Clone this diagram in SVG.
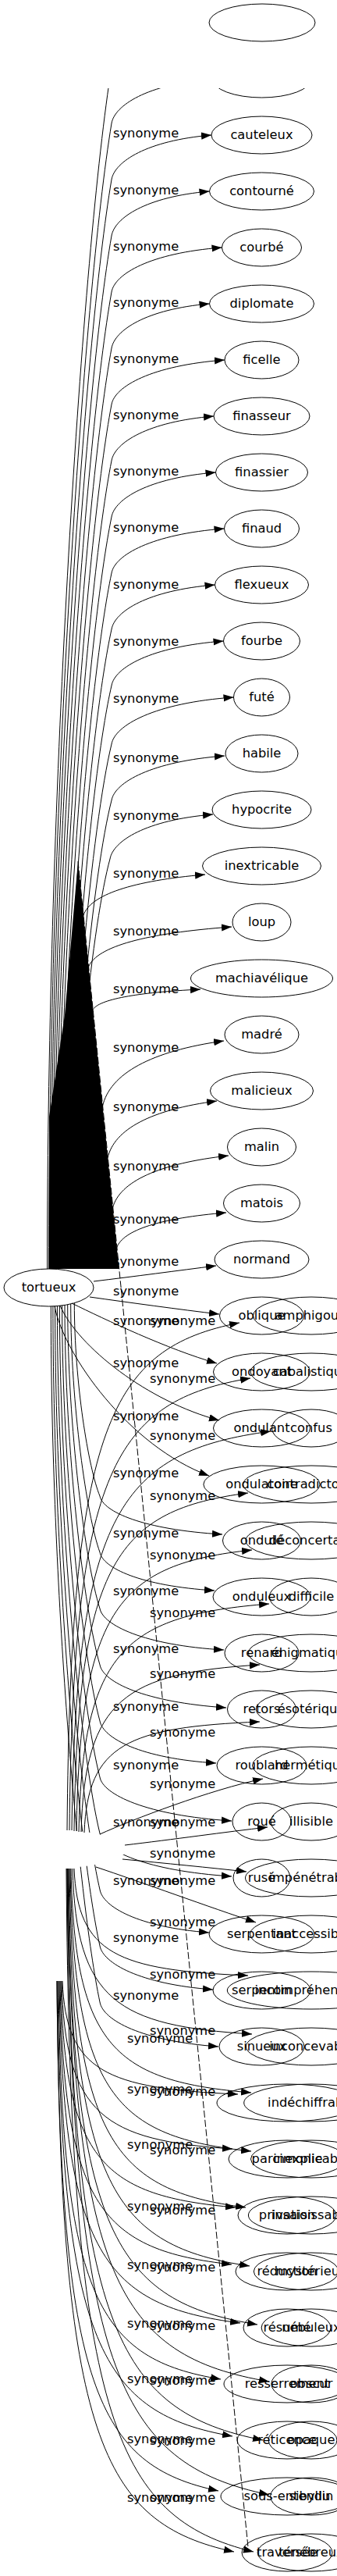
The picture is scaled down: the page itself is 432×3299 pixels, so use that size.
<svg xmlns="http://www.w3.org/2000/svg" width="432" height="3299" viewBox="0 0 432 3299">
<defs>
<marker id="ah" markerWidth="13" markerHeight="10" refX="13" refY="5" orient="auto" markerUnits="userSpaceOnUse"><path d="M0,0.4 L13,5 L0,9.6 z" fill="#000"/></marker>
</defs>
<style>
text{font-family:"DejaVu Sans","Liberation Sans",sans-serif;font-size:16.3px;fill:#000}
.n ellipse{fill:none;stroke:#000;stroke-width:1}
.n text{text-anchor:middle}
.e path{fill:none;stroke:#000;stroke-width:1;marker-end:url(#ah)}
.occ{fill:#fff;stroke:none}
</style>
<rect width="432" height="3299" fill="#fff"/>

<g id="connectors-a" class="e">
<path d="M60.6,1625 C60.6,1009 106,317 143,86 C147,63 187,36 267.5,29"/>
<path d="M62.6,1625 C62.6,1038 106.8,378 143,158 C147,135 188,108 272,101"/>
<path d="M64.6,1625 C64.6,1067 107.7,439 143,230 C147,207 188,180 271,173"/>
<path d="M66.6,1625 C66.6,1096 108.6,500 143,302 C147,279 187,252 268.5,245"/>
<path d="M68.7,1625 C68.7,1125 109.6,562 143,374 C147,351 192,324 284.5,317"/>
<path d="M70.9,1625 C70.9,1153 110.6,623 143,446 C147,423 187,396 268.5,389"/>
<path d="M73.1,1625 C73.1,1182 111.6,684 143,518 C147,495 194,468 288,461"/>
<path d="M75.4,1625 C75.4,1211 112.6,745 143,590 C147,567 189,540 274,533"/>
<path d="M77.8,1625 C77.8,1240 113.7,806 143,662 C147,639 190,612 276.5,605"/>
<path d="M80.3,1625 C80.3,1269 114.8,868 143,734 C147,711 194,684 287.5,677"/>
<path d="M82.9,1625 C82.9,1297 116,929 143,806 C147,783 189,756 275.5,749"/>
<path d="M85.6,1625 C85.6,1326 117.2,990 143,878 C147,855 193,828 286.5,821"/>
<path d="M88.6,1625 C88.6,1356 118.5,1054 143,953 C147,929 198,900 299.5,893"/>
<path d="M91.6,1625 C91.6,1385 119.9,1115 143,1025 C147,1002 194,975 288,968"/>
<path d="M92.9,1625 C92.9,1415 119.4,1179 141,1100 C145,1077 187,1050 273,1043"/>
<path d="M84,1625 L107,1172 C116,1146 169,1128 263,1120"/>
<path d="M94,1625 L113.5,1238 C124.5,1212 187,1195 297,1187"/>
<path d="M102,1625 L119,1293 C127,1280 174,1271 257,1267"/>
<path d="M111,1625 L131.4,1417 C140.7,1375 193.6,1346 287,1333"/>
<path d="M120,1625 L138,1483 C146.4,1446 194,1421 278,1410"/>
<path d="M130,1625 L144.4,1547 C153.3,1513 203.8,1490 293,1480"/>
<path d="M140,1625 L149.5,1598 C158,1575 205.7,1560 290,1553"/>
<path d="M120,1641 C170,1635 230,1627 277,1621"/>
<path d="M115,1661 C165,1668 230,1677 281,1683"/>
<path d="M92,1669 C135,1690 215,1728 278,1746"/>
<path d="M77,1672 C100,1725 190,1795 281,1819"/>
<path d="M70,1673 C82,1735 165,1852 268,1890"/>
<path d="M95.3,1669 C95.3,1770 113.3,1880 128,1916 C132,1936 183,1959 285,1965"/>
<path d="M90.7,1670 C90.7,1799 111.2,1941 128,1988 C132,2008 179.5,2031 275,2037"/>
<path d="M86.7,1671 C86.7,1828 109.4,2002 128,2060 C132,2081 183.7,2107 287,2113"/>
<path d="M83,1671 C83,1857 107.8,2063 128,2132 C132,2154 184.7,2180 290,2187"/>
<path d="M79.6,1672 C79.6,1885 106.2,2124 128,2204 C132,2226 180.2,2252 277,2258"/>
<path d="M76.4,1672 C76.4,1914 104.8,2186 128,2276 C132,2298 187.2,2325 297,2332"/>
<path d="M73.4,1672 C73.4,1943 103.4,2247 128,2348 C132,2370 187.2,2396 297,2403"/>
<path d="M70.6,1673 C70.6,1972 102.2,2308 128,2420 C132,2442 177,2468 268,2475"/>
<path d="M67.9,1673 C67.9,2001 101,2369 128,2492 C132,2514 178.8,2541 273,2548"/>
<path d="M65.3,1673 C65.3,2029 99.8,2430 128,2564 C132,2587 181.2,2614 280,2621"/>
</g>

<g id="labels-a">
<text x="145" y="176">synonyme</text><text x="145" y="249">synonyme</text><text x="145" y="321">synonyme</text>
<text x="145" y="393">synonyme</text><text x="145" y="465">synonyme</text><text x="145" y="537">synonyme</text>
<text x="145" y="609">synonyme</text><text x="145" y="681">synonyme</text><text x="145" y="754">synonyme</text>
<text x="145" y="827">synonyme</text><text x="145" y="900">synonyme</text><text x="145" y="976">synonyme</text>
<text x="145" y="1050">synonyme</text><text x="145" y="1124">synonyme</text><text x="145" y="1198">synonyme</text>
<text x="145" y="1272">synonyme</text><text x="145" y="1347">synonyme</text><text x="145" y="1423">synonyme</text>
<text x="145" y="1499">synonyme</text><text x="145" y="1567">synonyme</text><text x="145" y="1621">synonyme</text>
<text x="145" y="1659">synonyme</text><text x="145" y="1697">synonyme</text><text x="145" y="1751">synonyme</text>
<text x="145" y="1819">synonyme</text><text x="145" y="1892">synonyme</text><text x="145" y="1969">synonyme</text>
<text x="145" y="2043">synonyme</text><text x="145" y="2117">synonyme</text><text x="145" y="2191">synonyme</text>
<text x="145" y="2266">synonyme</text><text x="145" y="2339">synonyme</text><text x="145" y="2414">synonyme</text>
<text x="145" y="2487">synonyme</text><text x="145" y="2561">synonyme</text>
</g>

<g id="n-a101" class="n"><ellipse cx="335.5" cy="101" rx="63.5" ry="24"/></g>
<g id="n-cauteleux" class="n"><ellipse cx="335.5" cy="173" rx="64.5" ry="24"/><text x="335.5" y="178">cauteleux</text></g>
<g id="n-contourne" class="n"><ellipse cx="335.5" cy="245" rx="67" ry="24"/><text x="335.5" y="250">contourné</text></g>
<g id="n-courbe" class="n"><ellipse cx="335.5" cy="317" rx="51" ry="24"/><text x="335.5" y="322">courbé</text></g>
<g id="n-diplomate" class="n"><ellipse cx="335.5" cy="389" rx="67" ry="24"/><text x="335.5" y="394">diplomate</text></g>
<g id="n-ficelle" class="n"><ellipse cx="335.5" cy="461" rx="47.5" ry="24"/><text x="335.5" y="466">ficelle</text></g>
<g id="n-finasseur" class="n"><ellipse cx="335.5" cy="533" rx="61.5" ry="24"/><text x="335.5" y="538">finasseur</text></g>
<g id="n-finassier" class="n"><ellipse cx="335.5" cy="605" rx="59" ry="24"/><text x="335.5" y="610">finassier</text></g>
<g id="n-finaud" class="n"><ellipse cx="335.5" cy="677" rx="48" ry="24"/><text x="335.5" y="682">finaud</text></g>
<g id="n-flexueux" class="n"><ellipse cx="335.5" cy="749" rx="60" ry="24"/><text x="335.5" y="754">flexueux</text></g>
<g id="n-fourbe" class="n"><ellipse cx="335.5" cy="821" rx="49" ry="24"/><text x="335.5" y="826">fourbe</text></g>
<g id="n-fute" class="n"><ellipse cx="335.5" cy="893" rx="36" ry="24"/><text x="335.5" y="898">futé</text></g>
<g id="n-habile" class="n"><ellipse cx="335.5" cy="965" rx="46.5" ry="24"/><text x="335.5" y="970">habile</text></g>
<g id="n-hypocrite" class="n"><ellipse cx="335.5" cy="1037" rx="63.5" ry="24"/><text x="335.5" y="1042">hypocrite</text></g>
<g id="n-inextricable" class="n"><ellipse cx="335.5" cy="1109" rx="76" ry="24"/><text x="335.5" y="1114">inextricable</text></g>
<g id="n-loup" class="n"><ellipse cx="335.5" cy="1181" rx="37.5" ry="24"/><text x="335.5" y="1186">loup</text></g>
<g id="n-machiavelique" class="n"><ellipse cx="335.5" cy="1253" rx="91" ry="24"/><text x="335.5" y="1258">machiavélique</text></g>
<g id="n-madre" class="n"><ellipse cx="335.5" cy="1325" rx="47.5" ry="24"/><text x="335.5" y="1330">madré</text></g>
<g id="n-malicieux" class="n"><ellipse cx="335.5" cy="1397" rx="66" ry="24"/><text x="335.5" y="1402">malicieux</text></g>
<g id="n-malin" class="n"><ellipse cx="335.5" cy="1469" rx="44" ry="24"/><text x="335.5" y="1474">malin</text></g>
<g id="n-matois" class="n"><ellipse cx="335.5" cy="1541" rx="49" ry="24"/><text x="335.5" y="1546">matois</text></g>
<g id="n-normand" class="n"><ellipse cx="335.5" cy="1613" rx="60.5" ry="24"/><text x="335.5" y="1618">normand</text></g>
<g id="n-oblique" class="n"><ellipse cx="335.5" cy="1685" rx="54" ry="24"/><text x="335.5" y="1690">oblique</text></g>
<g id="n-ondoyant" class="n"><ellipse cx="335.5" cy="1757" rx="62" ry="24"/><text x="335.5" y="1762">ondoyant</text></g>
<g id="n-ondulant" class="n"><ellipse cx="335.5" cy="1829" rx="62" ry="24"/><text x="335.5" y="1834">ondulant</text></g>
<g id="n-ondulatoire" class="n"><ellipse cx="335.5" cy="1901" rx="74.6" ry="24"/><text x="335.5" y="1906">ondulatoire</text></g>
<g id="n-ondule" class="n"><ellipse cx="335.5" cy="1973" rx="50" ry="24"/><text x="335.5" y="1978">ondulé</text></g>
<g id="n-onduleux" class="n"><ellipse cx="335.5" cy="2045" rx="62.5" ry="24"/><text x="335.5" y="2050">onduleux</text></g>
<g id="n-renard" class="n"><ellipse cx="335.5" cy="2117" rx="47.5" ry="24"/><text x="335.5" y="2122">renard</text></g>
<g id="n-retors" class="n"><ellipse cx="335.5" cy="2189" rx="44" ry="24"/><text x="335.5" y="2194">retors</text></g>
<g id="n-roublard" class="n"><ellipse cx="335.5" cy="2261" rx="57.5" ry="24"/><text x="335.5" y="2266">roublard</text></g>
<g id="n-roue" class="n"><ellipse cx="335.5" cy="2333" rx="37.5" ry="24"/><text x="335.5" y="2338">roué</text></g>
<g id="n-ruse" class="n"><ellipse cx="335.5" cy="2405" rx="36.5" ry="24"/><text x="335.5" y="2410">rusé</text></g>
<g id="n-serpentant" class="n"><ellipse cx="335.5" cy="2477" rx="67.5" ry="24"/><text x="335.5" y="2482">serpentant</text></g>
<g id="n-serpentin" class="n"><ellipse cx="335.5" cy="2549" rx="62.5" ry="24"/><text x="335.5" y="2554">serpentin</text></g>
<g id="n-sinueux" class="n"><ellipse cx="335.5" cy="2621" rx="54.5" ry="24"/><text x="335.5" y="2626">sinueux</text></g>
<g id="n-tortueux" class="n"><ellipse cx="62.5" cy="1649" rx="57.5" ry="24"/><text x="62.5" y="1654">tortueux</text></g>

<polygon id="wedge" points="100,1103 152.5,1625 63,1625 63,1430 83,1300" fill="#000"/>
<rect x="0" y="0" width="432" height="113" fill="#fff"/>
<g id="n-blank-top" class="n"><ellipse cx="336" cy="29" rx="68" ry="24"/></g>

<ellipse class="occ" cx="62" cy="2368" rx="100" ry="25"/>
<g id="connectors-b" class="e">
<path d="M86,2344 C90.4,1824 141.25,1726.5 307,1694"/>
<path d="M89,2344 C93.6,1881 147,1794 321,1765"/>
<path d="M92,2344 C97.1,1935 155.75,1858.6 347,1833"/>
<path d="M95,2345 C99.5,1999 150.75,1933.65 318,1912"/>
<path d="M98,2345 C102.5,2057 154.25,2003 323,1985"/>
<path d="M101,2346 C105.9,2112 162,2068.6 345,2054"/>
<path d="M104,2346 C108.6,2175 161.25,2142.7 333,2132"/>
<path d="M108,2347 C112.5,2233 164.25,2212 333,2205"/>
<path d="M128,2349 C170,2330 270,2292 337,2278"/>
<path d="M160,2363 C220,2356 290,2346 343,2340"/>
<path d="M157,2381 C210,2386 270,2392 316,2397"/>
<path d="M123,2391 C180,2410 270,2443 328,2462"/>
<path d="M95,2393 C99.5,2502.6 150.75,2523.2 318,2530"/>
<path d="M93,2393 C97.6,2562.6 150.5,2594.4 323,2605"/>
<path d="M91,2393 C95.6,2622.6 148.75,2665.65 322,2680"/>
<path d="M90,2393 C94.6,2682.6 148,2736.9 322,2755"/>
<path d="M89,2393 C93.5,2740.2 145.5,2805.3 315,2827"/>
<path d="M88,2393 C92.6,2800.2 146,2876.55 320,2902"/>
<path d="M87,2393 C91.9,2860.2 147.75,2947.8 330,2977"/>
<path d="M87,2393 C92.2,2918.6 151.5,3017.15 345,3050"/>
<path d="M86,2393 C91,2978.6 148.75,3088.4 337,3125"/>
<path d="M86,2393 C91.2,3034.6 150.75,3154.9 345,3195"/>
<path d="M85,2393 C89.8,3093 145,3224.25 325,3268"/>
</g>
<g id="labels-b">
<text x="192" y="1697">synonyme</text><text x="192" y="1771">synonyme</text><text x="192" y="1844">synonyme</text>
<text x="192" y="1921">synonyme</text><text x="192" y="1997">synonyme</text><text x="192" y="2071">synonyme</text>
<text x="192" y="2149">synonyme</text><text x="192" y="2224">synonyme</text><text x="192" y="2290">synonyme</text>
<text x="192" y="2339">synonyme</text><text x="192" y="2379">synonyme</text><text x="192" y="2414">synonyme</text>
<text x="192" y="2467">synonyme</text><text x="192" y="2534">synonyme</text><text x="192" y="2606">synonyme</text>
<text x="192" y="2684">synonyme</text><text x="192" y="2759">synonyme</text><text x="192" y="2836">synonyme</text>
<text x="192" y="2909">synonyme</text><text x="192" y="2984">synonyme</text><text x="192" y="3054">synonyme</text>
<text x="192" y="3131">synonyme</text><text x="192" y="3204">synonyme</text>
</g>
<g id="n-amphigouri" class="n"><ellipse cx="399" cy="1685" rx="74.5" ry="24"/><text x="399" y="1690">amphigouri</text></g>
<g id="n-cabalistique" class="n"><ellipse cx="399" cy="1757" rx="77.9" ry="24"/><text x="399" y="1762">cabalistique</text></g>
<g id="n-confus" class="n"><ellipse cx="399" cy="1829" rx="50.5" ry="24"/><text x="399" y="1834">confus</text></g>
<g id="n-contradictoire" class="n"><ellipse cx="399" cy="1901" rx="87.3" ry="24"/><text x="399" y="1906">contradictoire</text></g>
<g id="n-deconcertant" class="n"><ellipse cx="399" cy="1973" rx="84" ry="24"/><text x="399" y="1978">déconcertant</text></g>
<g id="n-difficile" class="n"><ellipse cx="399" cy="2045" rx="53.7" ry="24"/><text x="399" y="2050">difficile</text></g>
<g id="n-enigmatique" class="n"><ellipse cx="399" cy="2117" rx="80.5" ry="24"/><text x="399" y="2122">énigmatique</text></g>
<g id="n-esoterique" class="n"><ellipse cx="399" cy="2189" rx="70.8" ry="24"/><text x="399" y="2194">ésotérique</text></g>
<g id="n-hermetique" class="n"><ellipse cx="399" cy="2261" rx="75.5" ry="24"/><text x="399" y="2266">hermétique</text></g>
<g id="n-illisible" class="n"><ellipse cx="399" cy="2333" rx="51.9" ry="24"/><text x="399" y="2338">illisible</text></g>
<g id="n-impenetrable" class="n"><ellipse cx="399" cy="2405" rx="84.5" ry="24"/><text x="399" y="2410">impénétrable</text></g>
<g id="n-inaccessible" class="n"><ellipse cx="399" cy="2477" rx="78.4" ry="24"/><text x="399" y="2482">inaccessible</text></g>
<g id="n-incomprehensible" class="n"><ellipse cx="399" cy="2549" rx="107.7" ry="24"/><text x="399" y="2554">incompréhensible</text></g>
<g id="n-inconcevable" class="n"><ellipse cx="399" cy="2621" rx="83.6" ry="24"/><text x="399" y="2626">inconcevable</text></g>
<g id="n-indechiffrable" class="n"><ellipse cx="399" cy="2693" rx="86.3" ry="24"/><text x="399" y="2698">indéchiffrable</text></g>
<g id="n-inexplicable" class="n"><ellipse cx="399" cy="2765" rx="77.5" ry="24"/><text x="399" y="2770">inexplicable</text></g>
<g id="n-insaisissable" class="n"><ellipse cx="399" cy="2837" rx="80.6" ry="24"/><text x="399" y="2842">insaisissable</text></g>
<g id="n-mysterieux" class="n"><ellipse cx="399" cy="2909" rx="73.7" ry="24"/><text x="399" y="2914">mystérieux</text></g>
<g id="n-nebuleux" class="n"><ellipse cx="399" cy="2981" rx="63.9" ry="24"/><text x="399" y="2986">nébuleux</text></g>
<g id="n-obscur" class="n"><ellipse cx="399" cy="3053" rx="51.1" ry="24"/><text x="399" y="3058">obscur</text></g>
<g id="n-opaque" class="n"><ellipse cx="399" cy="3125" rx="54.9" ry="24"/><text x="399" y="3130">opaque</text></g>
<g id="n-sibyllin" class="n"><ellipse cx="399" cy="3197" rx="52.4" ry="24"/><text x="399" y="3202">sibyllin</text></g>
<g id="n-tenebreux" class="n"><ellipse cx="399" cy="3269" rx="68.9" ry="24"/><text x="399" y="3274">ténébreux</text></g>

<g id="connectors-c" class="e">
<path d="M80,2537 C84.5,2653 136.25,2674.75 305,2682"/>
<path d="M79,2537 C83.4,2709 133.75,2741.25 298,2752"/>
<path d="M78,2537 C82.5,2769 134,2812.5 302,2827"/>
<path d="M77,2537 C81.4,2827.4 132,2881.85 297,2900"/>
<path d="M76,2537 C80.6,2887.4 134,2953.1 308,2975"/>
<path d="M75,2537 C79.2,2945 127,3021.5 283,3047"/>
<path d="M74,2537 C78.5,3003.4 130,3090.85 298,3120"/>
<path d="M73,2537 C77.1,3059.4 124.75,3157.35 280,3190"/>
<path d="M73,2537 C77.5,3121.8 129.75,3231.45 300,3268"/>
</g>
<g id="labels-c">
<text x="163" y="2616">synonyme</text><text x="163" y="2681">synonyme</text><text x="163" y="2752">synonyme</text>
<text x="163" y="2831">synonyme</text><text x="163" y="2906">synonyme</text><text x="163" y="2981">synonyme</text>
<text x="163" y="3052">synonyme</text><text x="163" y="3129">synonyme</text><text x="163" y="3204">synonyme</text>
</g>
<g id="n-c-blank" class="n"><ellipse cx="368" cy="2693" rx="90" ry="24"/></g>
<g id="n-parcimonie" class="n"><ellipse cx="368" cy="2765" rx="75" ry="24"/><text x="368" y="2770">parcimonie</text></g>
<g id="n-privation" class="n"><ellipse cx="368" cy="2837" rx="63" ry="24"/><text x="368" y="2842">privation</text></g>
<g id="n-reduction" class="n"><ellipse cx="368" cy="2909" rx="66" ry="24"/><text x="368" y="2914">réduction</text></g>
<g id="n-resume" class="n"><ellipse cx="368" cy="2981" rx="56" ry="24"/><text x="368" y="2986">résumé</text></g>
<g id="n-resserrement" class="n"><ellipse cx="368" cy="3053" rx="81" ry="24"/><text x="368" y="3058">resserrement</text></g>
<g id="n-reticence" class="n"><ellipse cx="368" cy="3125" rx="64" ry="24"/><text x="368" y="3130">réticence</text></g>
<g id="n-sous-entendu" class="n"><ellipse cx="368" cy="3197" rx="85" ry="24"/><text x="368" y="3202">sous-entendu</text></g>
<g id="n-traversee" class="n"><ellipse cx="368" cy="3269" rx="58" ry="24"/><text x="368" y="3274">traversée</text></g>

<g id="connector-dashed"><path d="M100,1103 L318,3262" fill="none" stroke="#000" stroke-width="1" stroke-dasharray="9,3"/></g>
</svg>
